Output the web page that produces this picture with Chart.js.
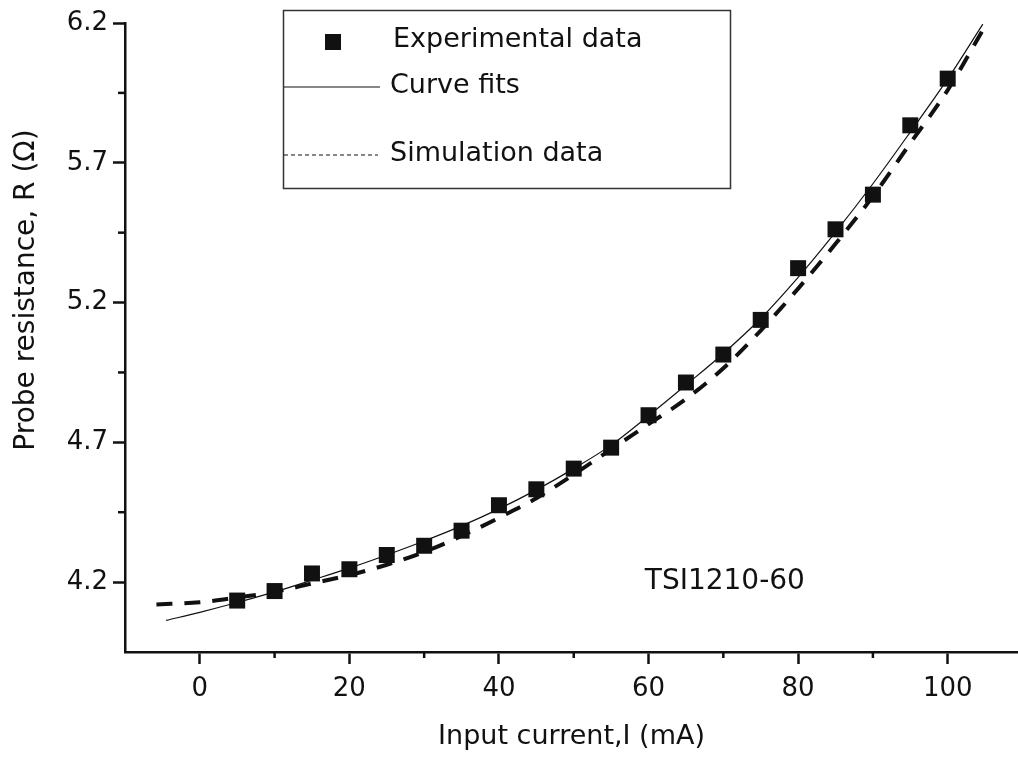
<!DOCTYPE html>
<html>
<head>
<meta charset="utf-8">
<script src="https://cdn.jsdelivr.net/npm/chart.js@4.4.1/dist/chart.umd.min.js"></script>
<style>
  html, body { margin: 0; padding: 0; background: #fff; overflow: hidden; }
  canvas { display: block; }
</style>
</head>
<body>
<canvas id="resistanceChart" width="1018" height="758"></canvas>
<script>
// measured points
const currentExp = [5, 10, 15, 20, 25, 30, 35, 40, 45, 50, 55, 60, 65, 70, 75, 80, 85, 90, 95, 100];
const resistanceExp = [4.134, 4.168, 4.231, 4.246, 4.297, 4.330, 4.384, 4.475, 4.532, 4.606, 4.681, 4.797, 4.914, 5.014, 5.138, 5.323, 5.462, 5.586, 5.834, 6.001];

// curve fit
const currentFit = [-4.5, 0, 5, 10, 15, 20, 25, 30, 35, 40, 45, 50, 55, 60, 65, 70, 75, 80, 85, 90, 95, 100, 104.7];
const resistanceFit = [4.063, 4.092, 4.127, 4.165, 4.207, 4.250, 4.297, 4.347, 4.401, 4.462, 4.530, 4.606, 4.690, 4.795, 4.905, 5.018, 5.143, 5.290, 5.452, 5.625, 5.810, 6.000, 6.196];

// simulation
const currentSim = [-5.8, 0, 5, 10, 15, 20, 25, 30, 35, 40, 45, 50, 55, 60, 65, 70, 75, 80, 85, 90, 95, 100, 104.7];
const resistanceSim = [4.120, 4.128, 4.145, 4.165, 4.195, 4.225, 4.262, 4.308, 4.365, 4.430, 4.500, 4.585, 4.675, 4.765, 4.855, 4.965, 5.100, 5.250, 5.410, 5.580, 5.770, 5.960, 6.175];

const xTicks = [0, 20, 40, 60, 80, 100];
const yTicks = [4.2, 4.7, 5.2, 5.7, 6.2];
const xMinorTicks = [10, 30, 50, 70, 90];
const yMinorTicks = [4.45, 4.95, 5.45, 5.95];

const ink = "#111";
const fontName = "'DejaVu Sans', sans-serif";

function toPoints(xs, ys) {
  return xs.map((x, i) => ({ x: x, y: ys[i] }));
}

// minor ticks, legend box, y title and the label inside the plot
const extras = {
  id: "extras",
  afterDraw(chart) {
    const ctx = chart.ctx;
    const sx = chart.scales.x;
    const sy = chart.scales.y;
    const area = chart.chartArea;

    ctx.save();
    ctx.strokeStyle = ink;
    ctx.lineWidth = 2.5;
    xMinorTicks.forEach((v) => {
      const px = sx.getPixelForValue(v);
      ctx.beginPath();
      ctx.moveTo(px, area.bottom);
      ctx.lineTo(px, area.bottom + 6);
      ctx.stroke();
    });
    yMinorTicks.forEach((v) => {
      const py = sy.getPixelForValue(v);
      ctx.beginPath();
      ctx.moveTo(area.left, py);
      ctx.lineTo(area.left - 7, py);
      ctx.stroke();
    });

    // legend
    const ds = chart.data.datasets;
    ctx.lineWidth = 1.5;
    ctx.strokeStyle = "#333";
    ctx.strokeRect(283.5, 10.5, 447, 178);

    ctx.fillStyle = ink;
    ctx.fillRect(325, 34, 16, 16);

    ctx.strokeStyle = ink;
    ctx.lineWidth = 1.2;
    ctx.beginPath();
    ctx.moveTo(284, 87);
    ctx.lineTo(380, 87);
    ctx.stroke();

    ctx.setLineDash([4, 3]);
    ctx.beginPath();
    ctx.moveTo(284, 155);
    ctx.lineTo(378, 155);
    ctx.stroke();
    ctx.setLineDash([]);

    ctx.font = "27px " + fontName;
    ctx.textAlign = "left";
    ctx.textBaseline = "middle";
    ctx.fillText(ds[0].label, 393, 40);
    ctx.fillText(ds[1].label, 390, 86);
    ctx.fillText(ds[2].label, 390, 154);

    // probe name
    ctx.font = "28px " + fontName;
    ctx.fillText("TSI1210-60", sx.getPixelForValue(59.5), sy.getPixelForValue(4.2));

    // y title
    ctx.font = "28px " + fontName;
    ctx.translate(27, 290);
    ctx.rotate(-Math.PI / 2);
    ctx.textAlign = "center";
    ctx.fillText("Probe resistance, R (\u03A9)", 0, 0);
    ctx.restore();
  }
};

const ctx = document.getElementById("resistanceChart").getContext("2d");
new Chart(ctx, {
  type: "scatter",
  data: {
    datasets: [
      {
        label: "Experimental data",
        data: toPoints(currentExp, resistanceExp),
        pointStyle: "rect",
        pointRadius: 11.3,
        pointBackgroundColor: ink,
        pointBorderWidth: 0,
        showLine: false
      },
      {
        label: "Curve fits",
        data: toPoints(currentFit, resistanceFit),
        showLine: true,
        borderColor: ink,
        borderWidth: 1.2,
        pointRadius: 0,
        cubicInterpolationMode: "monotone"
      },
      {
        label: "Simulation data",
        data: toPoints(currentSim, resistanceSim),
        showLine: true,
        borderColor: ink,
        borderWidth: 4,
        borderDash: [16, 12],
        pointRadius: 0,
        cubicInterpolationMode: "monotone"
      }
    ]
  },
  options: {
    responsive: false,
    animation: false,
    devicePixelRatio: 1,
    clip: false,
    layout: { autoPadding: false, padding: { top: 23, right: 0, bottom: 0, left: 0 } },
    plugins: {
      legend: { display: false },
      tooltip: { enabled: false }
    },
    scales: {
      x: {
        type: "linear",
        min: -10,
        max: 109.4,
        afterBuildTicks: (scale) => { scale.ticks = xTicks.map((v) => ({ value: v })); },
        afterFit: (scale) => {
          scale.height = 106;
          scale.paddingLeft = 0;
          scale.paddingRight = 0;
        },
        border: { display: true, color: ink, width: 2.5 },
        grid: { drawOnChartArea: false, tickLength: 12, tickWidth: 2.5, tickColor: ink },
        ticks: { color: ink, padding: 10, maxRotation: 0, font: { family: fontName, size: 26 } },
        title: {
          display: true,
          text: "Input current,I (mA)",
          color: ink,
          font: { family: fontName, size: 27 },
          padding: { top: 0, bottom: 5 }
        }
      },
      y: {
        type: "linear",
        min: 3.95,
        max: 6.2,
        afterBuildTicks: (scale) => { scale.ticks = yTicks.map((v) => ({ value: v })); },
        afterFit: (scale) => {
          scale.width = 125;
          scale.paddingTop = 0;
          scale.paddingBottom = 0;
        },
        border: { display: true, color: ink, width: 2.5 },
        grid: { drawOnChartArea: false, tickLength: 12, tickWidth: 2.5, tickColor: ink },
        ticks: {
          color: ink,
          padding: 5,
          font: { family: fontName, size: 26 },
          callback: (v) => v.toFixed(1)
        }
      }
    }
  },
  plugins: [extras]
});
</script>
</body>
</html>
